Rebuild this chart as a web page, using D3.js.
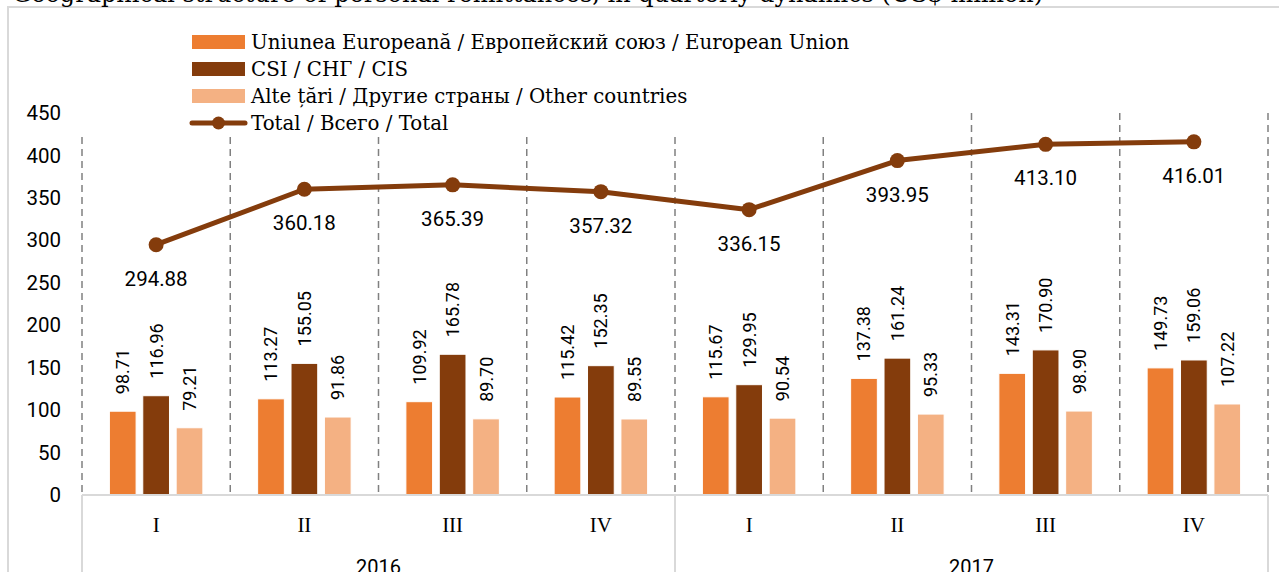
<!doctype html>
<html lang="ro">
  <head>
    <meta charset="utf-8">
    <title>Remittances by region</title>
    <script src="https://d3js.org/d3.v7.min.js"></script>
    <style>
    body { margin: 0; background: #fff; }
    svg { display: block; }
    .num { font-family: Roboto, "Noto Sans", sans-serif; fill: #000; }
    .serif { font-family: "DejaVu Serif", "Liberation Serif", serif; fill: #000; }
    </style>
  </head>

  <body>
    <svg width="1279" height="572"></svg>

    <script>
      // data
      var quarters = ['I', 'II', 'III', 'IV', 'I', 'II', 'III', 'IV'];
      var years = ['2016', '2017'];
      var euValues = [98.71, 113.27, 109.92, 115.42, 115.67, 137.38, 143.31, 149.73];
      var cisValues = [116.96, 155.05, 165.78, 152.35, 129.95, 161.24, 170.90, 159.06];
      var otherValues = [79.21, 91.86, 89.70, 89.55, 90.54, 95.33, 98.90, 107.22];
      var totalValues = [294.88, 360.18, 365.39, 357.32, 336.15, 393.95, 413.10, 416.01];
      var yTicks = [0, 50, 100, 150, 200, 250, 300, 350, 400, 450];

      var seriesNames = [
        'Uniunea Europeană / Европейский союз / European Union',
        'CSI / СНГ / CIS',
        'Alte țări / Другие страны / Other countries'
      ];
      var totalName = 'Total / Всего / Total';
      var colors = ['#ed7d31', '#843c0c', '#f4b183'];
      var lineColor = '#843c0c';

      var seriesValues = [euValues, cisValues, otherValues];

      var svg = d3.select('svg');

      // outer chart border
      svg.append('rect')
        .attr('x', 8).attr('y', 7)
        .attr('width', 1290).attr('height', 600)
        .attr('fill', 'none')
        .attr('stroke', '#d9d9d9')
        .attr('stroke-width', 2);

      // title (cut off by the top edge in the source)
      svg.append('text')
        .attr('class', 'serif')
        .attr('x', 12).attr('y', 2)
        .style('font-size', '24px')
        .text('Geographical structure of personal remittances, in quarterly dynamics (US$ million)');

      var xScale = d3.scaleBand()
        .domain(d3.range(quarters.length))
        .range([82, 1268]);

      var inner = d3.scaleBand()
        .domain(d3.range(3))
        .range([0, xScale.bandwidth()])
        .paddingInner(0.2)
        .paddingOuter(0.82);

      var yScale = d3.scaleLinear()
        .domain([0, 450])
        .range([495, 113]);

      // dashed vertical separators
      var sepX = d3.range(quarters.length + 1).map(function(i){
        return i < quarters.length ? xScale(i) : xScale(i - 1) + xScale.bandwidth();
      });
      svg.append('g').selectAll('line').data(sepX)
        .enter().append('line')
          .attr('x1', function(d){ return d; })
          .attr('x2', function(d){ return d; })
          .attr('y1', yScale(450))
          .attr('y2', yScale(0))
          .attr('stroke', '#808080')
          .attr('stroke-width', 1.5)
          .attr('stroke-dasharray', '7,5');

      // y axis labels
      var yAxis = d3.axisLeft(yScale).tickValues(yTicks).tickSize(0).tickPadding(21);
      var yg = svg.append('g')
        .attr('transform', 'translate(82,0)')
        .call(yAxis);
      yg.select('.domain').remove();
      yg.selectAll('text')
        .attr('class', 'num')
        .style('font-size', '20.5px');

      // bars
      seriesValues.forEach(function(vals, s){
        var g = svg.append('g');
        g.selectAll('rect').data(vals)
          .enter().append('rect')
            .attr('x', function(d, i){ return xScale(i) + inner(s); })
            .attr('y', function(d){ return yScale(d); })
            .attr('width', inner.bandwidth())
            .attr('height', function(d){ return yScale(0) - yScale(d); })
            .attr('fill', colors[s])
            .attr('stroke', '#fff')
            .attr('stroke-width', 1);

        g.selectAll('text').data(vals)
          .enter().append('text')
            .attr('class', 'num')
            .style('font-size', '18px')
            .attr('text-anchor', 'start')
            .attr('dominant-baseline', 'central')
            .attr('transform', function(d, i){
              var cx = xScale(i) + inner(s) + inner.bandwidth() / 2;
              return 'translate(' + cx + ',' + (yScale(d) - 17) + ') rotate(-90)';
            })
            .text(function(d){ return d.toFixed(2); });
      });

      // category axis
      svg.append('line')
        .attr('x1', 82).attr('x2', 1268)
        .attr('y1', yScale(0)).attr('y2', yScale(0))
        .attr('stroke', '#d9d9d9')
        .attr('stroke-width', 2);

      [0, 4, 8].forEach(function(i){
        var x = i < quarters.length ? xScale(i) : xScale(i - 1) + xScale.bandwidth();
        svg.append('line')
          .attr('x1', x).attr('x2', x)
          .attr('y1', yScale(0)).attr('y2', 572)
          .attr('stroke', '#d9d9d9')
          .attr('stroke-width', 2);
      });

      svg.append('g').selectAll('text').data(quarters)
        .enter().append('text')
          .attr('font-family', '"Liberation Serif", serif')
          .style('font-size', '21px')
          .attr('text-anchor', 'middle')
          .attr('x', function(d, i){ return xScale(i) + xScale.bandwidth() / 2; })
          .attr('y', 532)
          .text(function(d){ return d; });

      svg.append('g').selectAll('text').data(years)
        .enter().append('text')
          .attr('class', 'num')
          .style('font-size', '20px')
          .attr('text-anchor', 'middle')
          .attr('x', function(d, i){ return xScale(i * 4) + xScale.bandwidth() * 2; })
          .attr('y', 574)
          .text(function(d){ return d; });

      // legend (white box hides the top of the separators)
      var legend = svg.append('g');
      legend.append('rect')
        .attr('x', 70).attr('y', 22)
        .attr('width', 810).attr('height', 115)
        .attr('fill', '#fff');

      var rowY = [42, 69, 96, 123];
      seriesNames.forEach(function(name, s){
        legend.append('rect')
          .attr('x', 192).attr('y', rowY[s] - 7)
          .attr('width', 53).attr('height', 14)
          .attr('fill', colors[s]);
        legend.append('text')
          .attr('class', 'serif')
          .style('font-size', '19.8px')
          .attr('x', 251).attr('y', rowY[s])
          .attr('dominant-baseline', 'central')
          .text(name);
      });
      legend.append('line')
        .attr('x1', 192).attr('x2', 245)
        .attr('y1', rowY[3]).attr('y2', rowY[3])
        .attr('stroke', lineColor)
        .attr('stroke-width', 5)
        .attr('stroke-linecap', 'round');
      legend.append('circle')
        .attr('cx', 218.5).attr('cy', rowY[3]).attr('r', 6.5)
        .attr('fill', lineColor);
      legend.append('text')
        .attr('class', 'serif')
        .style('font-size', '19.8px')
        .attr('x', 251).attr('y', rowY[3])
        .attr('dominant-baseline', 'central')
        .text(totalName);

      // total line
      var line = d3.line()
        .x(function(d, i){ return xScale(i) + xScale.bandwidth() / 2; })
        .y(function(d){ return yScale(d); });

      svg.append('path')
        .datum(totalValues)
        .attr('d', line)
        .attr('fill', 'none')
        .attr('stroke', lineColor)
        .attr('stroke-width', 5)
        .attr('stroke-linejoin', 'round');

      svg.append('g').selectAll('circle').data(totalValues)
        .enter().append('circle')
          .attr('cx', function(d, i){ return xScale(i) + xScale.bandwidth() / 2; })
          .attr('cy', function(d){ return yScale(d); })
          .attr('r', 7.5)
          .attr('fill', lineColor);

      svg.append('g').selectAll('text').data(totalValues)
        .enter().append('text')
          .attr('class', 'num')
          .style('font-size', '20.5px')
          .attr('text-anchor', 'middle')
          .attr('dominant-baseline', 'central')
          .attr('x', function(d, i){ return xScale(i) + xScale.bandwidth() / 2; })
          .attr('y', function(d){ return yScale(d) + 34; })
          .text(function(d){ return d.toFixed(2); });
    </script>
  </body>
</html>
